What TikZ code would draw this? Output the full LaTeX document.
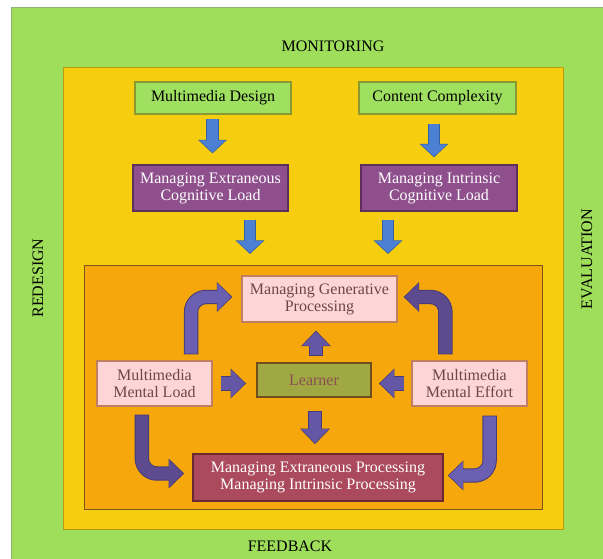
\documentclass[tikz,border=0pt]{standalone}
\usepackage{fontspec}
\setmainfont{Liberation Serif}
\usetikzlibrary{arrows.meta,calc}

% palette
\definecolor{greenbg}{HTML}{9EDE5B}
\definecolor{greenedge}{HTML}{8FAF78}
\definecolor{yellowbg}{HTML}{F6CE0F}
\definecolor{yellowedge}{HTML}{B89A10}
\definecolor{orangebg}{HTML}{F6A70B}
\definecolor{orangeedge}{HTML}{7A5418}
\definecolor{boxgreen}{HTML}{A0E060}
\definecolor{boxgreenedge}{HTML}{8A9A30}
\definecolor{purplebox}{HTML}{8E4F8C}
\definecolor{purpleedge}{HTML}{5E2E5C}
\definecolor{pinkbox}{HTML}{FDD5D6}
\definecolor{pinkedge}{HTML}{C08060}
\definecolor{pinktext}{HTML}{6A4848}
\definecolor{learnerfill}{HTML}{A0A844}
\definecolor{learneredge}{HTML}{6E4E1C}
\definecolor{learnertext}{HTML}{8A4E52}
\definecolor{redbox}{HTML}{AA4A5C}
\definecolor{rededge}{HTML}{6A2830}
\definecolor{bluefill}{HTML}{4B80D5}
\definecolor{blueedge}{HTML}{35609E}
\definecolor{violetlight}{HTML}{6A5FB0}
\definecolor{violetmid}{HTML}{6457A6}
\definecolor{violetdark}{HTML}{5C4B8E}
\definecolor{violetedge}{HTML}{463A78}

\tikzset{
  txt/.style={font=\fontsize{16}{17}\selectfont, align=center, inner sep=0pt},
  frame/.style={anchor=north west, inner sep=0pt, line width=1pt},
  card/.style={txt, line width=1.2pt},
  greencard/.style={card, fill=boxgreen, draw=boxgreenedge, text=black},
  purplecard/.style={card, fill=purplebox, draw=purpleedge, text=white},
  pinkcard/.style={card, fill=pinkbox, draw=pinkedge, text=pinktext},
  learnercard/.style={card, fill=learnerfill, draw=learneredge, line width=1.8pt, text=learnertext},
  redcard/.style={card, fill=redbox, draw=rededge, line width=1.6pt, text=white},
  thin edge/.style={line width=12.4pt, -{Triangle[width=28pt,length=13.5pt]}},
  thin body/.style={line width=10.4pt, -{Triangle[width=25.6pt,length=12pt]},
    shorten >=1.1pt, shorten <=0.8pt},
  wide edge/.style={line width=14.4pt, -{Triangle[width=29pt,length=15.5pt]}},
  wide body/.style={line width=12.4pt, -{Triangle[width=26.6pt,length=14pt]},
    shorten >=1.1pt, shorten <=0.8pt},
}

% block arrow: #1 size, #2 body colour, #3 edge colour, #4 path
\newcommand\blockarrow[4]{%
  \draw[#1 edge, draw=#3] #4;
  \draw[#1 body, draw=#2] #4;}

\begin{document}
\begin{tikzpicture}[x=1pt, y=-1pt]
\useasboundingbox (0,0) rectangle (603,559);
\fill[white] (0,0) rectangle (603,559);

% nested frames
\node[frame, fill=greenbg, draw=greenedge, minimum width=593pt, minimum height=553pt] (outer) at (11,7) {};
\node[frame, fill=yellowbg, draw=yellowedge, minimum width=500pt, minimum height=462pt] (mid) at (63,67) {};
\node[frame, fill=orangebg, draw=orangeedge, line width=1.3pt, minimum width=458pt, minimum height=244pt] (inner) at (84,265) {};

% frame labels
\node[txt] (mon) at (333,46) {MONITORING};
\node[txt] (fb) at (290,546) {FEEDBACK};
\node[txt, rotate=90] (red-l) at (38,278) {REDESIGN};
\node[txt, rotate=90] (eva) at (587,259) {EVALUATION};

% top row
\node[greencard, minimum width=156pt, minimum height=32pt] (md) at (213,98) {Multimedia Design};
\node[greencard, minimum width=157pt, minimum height=32pt] (cc) at (437.5,98) {Content Complexity};
\node[purplecard, minimum width=155pt, minimum height=46pt] (mecl) at (210.5,188) {Managing Extraneous\\Cognitive Load};
\node[purplecard, minimum width=156pt, minimum height=46pt] (micl) at (439,188) {Managing Intrinsic\\Cognitive Load};

% processing block
\node[pinkcard, minimum width=155pt, minimum height=46pt] (gen) at (319.5,299) {Managing Generative\\Processing};
\node[pinkcard, minimum width=115pt, minimum height=45pt] (mml) at (154.5,383.5) {Multimedia\\Mental Load};
\node[learnercard, minimum width=114pt, minimum height=34pt] (learner) at (314,380) {Learner};
\node[pinkcard, minimum width=115pt, minimum height=45pt] (mme) at (469.5,383.5) {Multimedia\\Mental Effort};
\node[redcard, minimum width=250pt, minimum height=47pt] (redb) at (318,477.5) {Managing Extraneous Processing\\Managing Intrinsic Processing};

% blue arrows
\coordinate (b1s) at ($(md.south)+(-0.5,4)$);
\coordinate (b1e) at ($(b1s |- mecl.north)+(0,-11)$);
\coordinate (b2s) at ($(cc.south)+(-3.5,9)$);
\coordinate (b2e) at ($(b2s |- micl.north)+(0,-7)$);
\coordinate (b3s) at ($(mecl.south)+(39.5,8)$);
\coordinate (b3e) at ($(b3s |- inner.north)+(0,-11)$);
\coordinate (b4s) at ($(micl.south)+(-51,8)$);
\coordinate (b4e) at ($(b4s |- inner.north)+(0,-11)$);
\blockarrow{thin}{bluefill}{blueedge}{(b1s) -- (b1e)}
\blockarrow{thin}{bluefill}{blueedge}{(b2s) -- (b2e)}
\blockarrow{thin}{bluefill}{blueedge}{(b3s) -- (b3e)}
\blockarrow{thin}{bluefill}{blueedge}{(b4s) -- (b4e)}

% learner arrows
\coordinate (pus) at ($(learner.north)+(2,-6)$);
\coordinate (pue) at ($(pus |- gen.south)+(0,8)$);
\coordinate (pds) at ($(learner.south)+(1,13)$);
\coordinate (pde) at ($(pds |- redb.north)+(0,-9)$);
\coordinate (pls) at ($(mml.east)+(8,0)$);
\coordinate (ple) at ($(pls -| learner.west)+(-10,0)$);
\coordinate (prs) at ($(mme.west)+(-7,0)$);
\coordinate (pre) at ($(prs -| learner.east)+(7,0)$);
\blockarrow{wide}{violetmid}{violetedge}{(pus) -- (pue)}
\blockarrow{wide}{violetmid}{violetedge}{(pds) -- (pde)}
\blockarrow{wide}{violetmid}{violetedge}{(pls) -- (ple)}
\blockarrow{wide}{violetmid}{violetedge}{(prs) -- (pre)}

% bent arrows
\coordinate (c1s) at ($(mml.north east)+(-21.5,-6)$);
\coordinate (c1e) at ($(gen.west)+(-9,-2)$);
\coordinate (c2s) at ($(mme.north west)+(34,-6)$);
\coordinate (c2e) at ($(gen.east)+(6,-2)$);
\coordinate (c3s) at ($(mml.south west)+(45.5,8)$);
\coordinate (c3e) at ($(redb.west)+(-8,-4)$);
\coordinate (c4s) at ($(mme.south east)+(-38,9)$);
\coordinate (c4e) at ($(redb.east)+(4,-2)$);
\blockarrow{wide}{violetlight}{violetedge}{[rounded corners=15pt] (c1s) |- (c1e)}
\blockarrow{wide}{violetdark}{violetedge}{[rounded corners=15pt] (c2s) |- (c2e)}
\blockarrow{wide}{violetdark}{violetedge}{[rounded corners=15pt] (c3s) |- (c3e)}
\blockarrow{wide}{violetlight}{violetedge}{[rounded corners=15pt] (c4s) |- (c4e)}
\end{tikzpicture}
\end{document}
